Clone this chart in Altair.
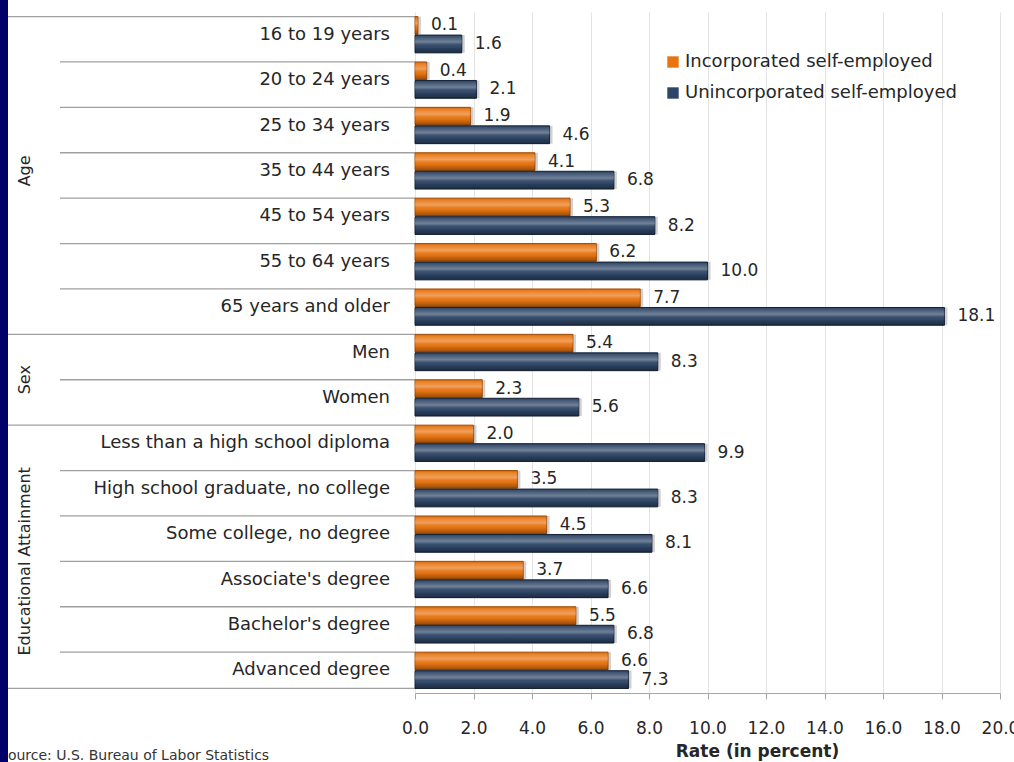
import altair as alt
import pandas as pd

categories = [
    "16 to 19 years", "20 to 24 years", "25 to 34 years", "35 to 44 years",
    "45 to 54 years", "55 to 64 years", "65 years and older",
    "Men", "Women",
    "Less than a high school diploma", "High school graduate, no college",
    "Some college, no degree", "Associate's degree", "Bachelor's degree",
    "Advanced degree",
]
incorporated = [0.1, 0.4, 1.9, 4.1, 5.3, 6.2, 7.7, 5.4, 2.3, 2.0, 3.5, 4.5, 3.7, 5.5, 6.6]
unincorporated = [1.6, 2.1, 4.6, 6.8, 8.2, 10.0, 18.1, 8.3, 5.6, 9.9, 8.3, 8.1, 6.6, 6.8, 7.3]
series_names = ["Incorporated self-employed", "Unincorporated self-employed"]
series_colors = ["#E8730F", "#2D4566"]
series_edges = ["#A9520A", "#17243A"]
x_ticks = [0, 2, 4, 6, 8, 10, 12, 14, 16, 18, 20]
group_starts = ["16 to 19 years", "Men", "Less than a high school diploma"]
source_text = "Source: U.S. Bureau of Labor Statistics"

FONT = "DejaVu Sans"
TXT = "#262626"

rows = []
for c, a, b in zip(categories, incorporated, unincorporated):
    rows.append({"cat": c, "series": series_names[0], "value": a})
    rows.append({"cat": c, "series": series_names[1], "value": b})
bars_df = pd.DataFrame(rows)
cat_df = pd.DataFrame({"cat": categories})
inner_df = pd.DataFrame({"cat": [c for c in categories if c not in group_starts]})
group_df = pd.DataFrame({"cat": group_starts})
bottom_df = pd.DataFrame({"cat": [categories[-1]]})
age_df = pd.DataFrame({"cat": ["35 to 44 years"], "label": ["Age"]})
other_groups_df = pd.DataFrame({"cat": ["Women", "Associate's degree"],
                                "label": ["Sex", "Educational Attainment"]})
src_df = pd.DataFrame({"t": [source_text]})

yscale = alt.Scale(domain=categories, paddingInner=0.2, paddingOuter=0.1)
yoff = alt.YOffset("series:N", scale=alt.Scale(domain=series_names, paddingInner=0.04))
xscale = alt.Scale(domain=[0, 20], nice=False, zero=True)


def Y(**kw):
    return alt.Y("cat:N", scale=yscale, axis=None, sort=categories, **kw)


xenc = alt.X(
    "value:Q", scale=xscale,
    axis=alt.Axis(values=x_ticks, format=".1f", title="Rate (in percent)",
                  titleFontWeight="bold", titleFontSize=17, titleFont=FONT,
                  titleColor=TXT, titleX=342, titlePadding=7,
                  labelFont=FONT, labelFontSize=17, labelColor=TXT,
                  labelPadding=21, tickSize=6, tickColor="#a6a6a6",
                  domainColor="#a6a6a6", grid=True, gridColor="#e3e3e3",
                  labelFlush=False),
)

inner_rules = alt.Chart(inner_df).mark_rule(color="#a0a0a0", strokeWidth=1.3).encode(
    y=Y(bandPosition=0), x=alt.value(-355), x2=alt.value(0))
group_rules = alt.Chart(group_df).mark_rule(color="#a0a0a0", strokeWidth=1.3).encode(
    y=Y(bandPosition=0), x=alt.value(-407), x2=alt.value(0))
bottom_rule = alt.Chart(bottom_df).mark_rule(color="#a0a0a0", strokeWidth=1.3).encode(
    y=Y(bandPosition=1), x=alt.value(-407), x2=alt.value(0))

shadow = alt.Chart(bars_df).mark_bar(color="#000000", opacity=0.18, xOffset=3, yOffset=3).encode(
    x=alt.X("value:Q", scale=xscale), y=Y(), yOffset=yoff)

base = alt.Chart(bars_df).mark_bar(strokeWidth=1).encode(
    x=xenc,
    y=alt.Y("cat:N", scale=yscale, sort=categories,
            axis=alt.Axis(labels=False, ticks=False, title=None, grid=False,
                          domainColor="#a6a6a6", domainWidth=1.3)),
    yOffset=yoff,
    stroke=alt.Stroke("series:N", scale=alt.Scale(domain=series_names, range=series_edges),
                      legend=None),
    color=alt.Color("series:N", scale=alt.Scale(domain=series_names, range=series_colors),
                    legend=alt.Legend(title=None, orient="none", legendX=249, legendY=41,
                                      symbolType="square", symbolSize=130,
                                      symbolStrokeWidth=0, labelFont=FONT,
                                      labelFontSize=18, labelColor=TXT,
                                      rowPadding=13, labelOffset=3, padding=0,
                                      labelLimit=400)),
)

gloss = alt.Chart(bars_df).mark_bar(
    color=alt.Gradient(
        gradient="linear", x1=0, x2=0, y1=0, y2=1,
        stops=[
            alt.GradientStop(color="rgba(0,0,0,0.12)", offset=0),
            alt.GradientStop(color="rgba(255,255,255,0.10)", offset=0.12),
            alt.GradientStop(color="rgba(255,255,255,0.32)", offset=0.38),
            alt.GradientStop(color="rgba(255,255,255,0.05)", offset=0.55),
            alt.GradientStop(color="rgba(0,0,0,0.10)", offset=0.75),
            alt.GradientStop(color="rgba(0,0,0,0.35)", offset=1),
        ],
    )
).encode(x=alt.X("value:Q", scale=xscale), y=Y(), yOffset=yoff)

values = alt.Chart(bars_df).mark_text(
    align="left", baseline="middle", dx=13, font=FONT, fontSize=17, color=TXT
).encode(x=alt.X("value:Q", scale=xscale), y=Y(), yOffset=yoff,
         text=alt.Text("value:Q", format=".1f"))

cat_labels = alt.Chart(cat_df).mark_text(
    align="right", baseline="middle", font=FONT, fontSize=18, color=TXT
).encode(x=alt.value(-25), y=Y(), text="cat:N")

age_label = alt.Chart(age_df).mark_text(
    angle=270, align="center", baseline="middle", font=FONT, fontSize=16, color=TXT
).encode(x=alt.value(-390), y=Y(bandPosition=0.5), text="label:N")
other_labels = alt.Chart(other_groups_df).mark_text(
    angle=270, align="center", baseline="middle", font=FONT, fontSize=16, color=TXT
).encode(x=alt.value(-390), y=Y(bandPosition=0), text="label:N")

source = alt.Chart(src_df).mark_text(
    align="left", baseline="middle", font=FONT, fontSize=14, color="#333333"
).encode(x=alt.value(-416), y=alt.value(744), text="t:N")

strip = alt.Chart(src_df).mark_rect(color="#00006B").encode(
    x=alt.value(-415), x2=alt.value(-407), y=alt.value(-12), y2=alt.value(750))

chart = alt.layer(
    inner_rules, group_rules, bottom_rule, shadow, base, gloss, values,
    cat_labels, age_label, other_labels, source, strip
).properties(
    width=585, height=681,
    autosize=alt.AutoSizeParams(type="none"),
    padding={"left": 415, "top": 12, "right": 14, "bottom": 69},
    background="white",
).configure_view(strokeWidth=0)

chart.save("out.html", embed_options={"renderer": "svg", "actions": False})
